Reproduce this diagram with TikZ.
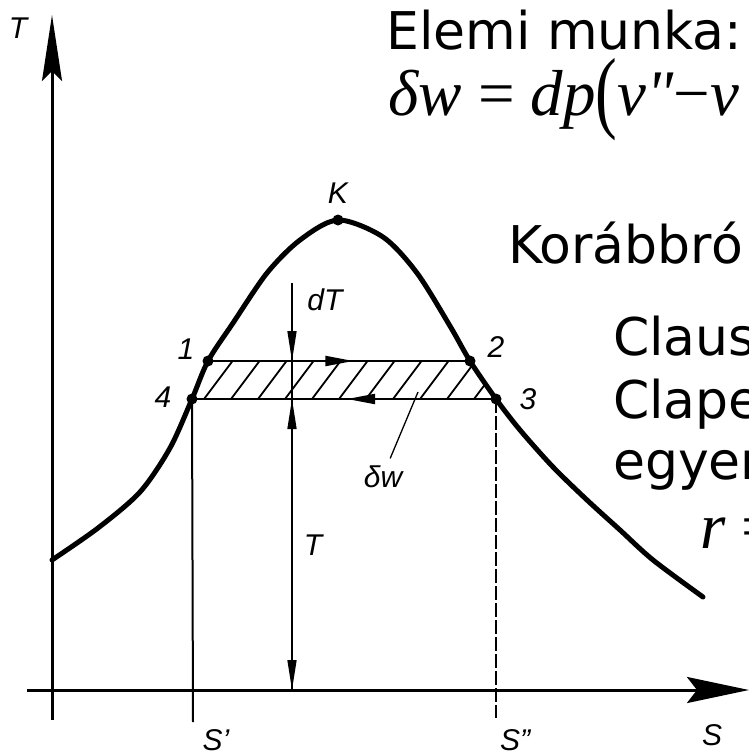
\documentclass[tikz,border=0pt]{standalone}
\usepackage{fontspec}
\usepackage{graphicx}
\newfontfamily\slidefont{DejaVu Sans}
\newfontfamily\eqfont{Liberation Serif}
\newfontfamily\figfont{Liberation Sans}
\usetikzlibrary{arrows.meta, calc}

\begin{document}
\begin{tikzpicture}[x=1pt, y=-1pt,
        >={Triangle[length=30pt,width=9pt]},
        lab/.style={font=\figfont\itshape\fontsize{30}{30}\selectfont, inner sep=0pt},
        slide/.style={font=\slidefont\fontsize{52}{52}\selectfont, anchor=base west, inner sep=0pt},
        eq/.style={font=\eqfont\fontsize{65}{65}\selectfont, anchor=base west, inner sep=0pt}]
        \clip (0,0) rectangle (749,755);
        \fill[white] (0,0) rectangle (749,755);

        % Slide text
        \node[slide] (title) at (386,49) {Elemi munka:};
        \node[eq] (work) at (388,115) {\textit{δw} = \textit{dp}\raisebox{-0.1em}{\scalebox{1}[1.4]{(}}\textit{v"}−\textit{v}};
        \node[slide] (earlier) at (508,263) {Korábbró};
        \node[slide] (claus) at (613,355) {Claus};
        \node[slide] (clape) at (613,418) {Clape};
        \node[slide] (egyen) at (613,479) {egyen};
        \node[eq] (heat) at (700,548) {\textit{r} =};

        % Axes
        \coordinate (tBot) at (52,720);
        \coordinate (tTop) at (52,15);
        \coordinate (sLeft) at (27,690);
        \coordinate (sRight) at (749,690);
        \draw[line width=3pt, -{Stealth[length=66pt,width=20pt,inset=10pt]}] (tBot) -- (tTop);
        \draw[line width=3pt, -{Stealth[length=62pt,width=26pt,inset=10pt]}] (sLeft) -- (sRight);

        % Saturation curve points
        \coordinate (c4) at (192,399);
        \coordinate (c1) at (208,361);
        \coordinate (cK) at (338,220);
        \coordinate (c2) at (470,361);
        \coordinate (c3) at (496,399);

        % Hatched work area
        \begin{scope}
            \clip (c4) -- (c1) -- (c2) -- (c3) -- cycle;
            \foreach \x in {150,177,...,520}
                \draw[line width=1.8pt] (\x,399) -- ++(30,-40);
        \end{scope}

        % Saturation curve
        \draw[line width=5pt, line cap=round] plot[smooth] coordinates {(52,560) (98,528) (140,492) (170,448) (c4) (c1) (233,323) (267,273) (300,240) (cK) (383,237) (417,273) (450,326) (c2) (c3) (520,430) (553,467) (587,500) (620,530) (653,560) (703,597)};
        \foreach \p in {c1,c2,c3,c4,cK}
            \fill (\p) circle (5.5pt);

        % Isotherms
        \path (c1) -- (c2) coordinate[pos=0.555] (a12);
        \path (c3) -- (c4) coordinate[pos=0.49] (a34);
        \draw[line width=2pt] (c1) -- (c2);
        \draw[line width=2pt] (c4) -- (c3);
        \draw[line width=2pt, -{Triangle[length=28pt,width=10pt]}] (c1) -- (a12);
        \draw[line width=2pt, -{Triangle[length=28pt,width=10pt]}] (c3) -- (a34);

        % Entropy lines
        \coordinate (s1) at (193,722);
        \coordinate (s2) at (496,718);
        \draw[line width=2pt] (c4) -- (s1);
        \draw[line width=1.8pt, dash pattern=on 14pt off 3pt] (c3) -- (s2);

        % dT and T dimensions
        \coordinate (dTtop) at (292,283);
        \coordinate (dTa) at (292,361);
        \coordinate (dTb) at (292,399);
        \coordinate (dTbot) at (292,690);
        \draw[line width=1.5pt] (dTtop) -- (dTbot);
        \draw[line width=1.5pt, ->] (dTtop) -- (dTa);
        \draw[line width=1.5pt, <->] (dTb) -- (dTbot);

        % Labels
        \node[lab] (lT) at (18,28) {T};
        \node[lab] (lK) at (338,193) {K};
        \node[lab] (l1) at (186,349) {1};
        \node[lab] (l4) at (163,397) {4};
        \node[lab] (l2) at (496,347) {2};
        \node[lab] (l3) at (528,399) {3};
        \node[lab] (ldT) at (325,300) {dT};
        \node[lab] (ldw) at (383,477) {δw};
        \node[lab] (lTT) at (313,545) {T};
        \node[lab] (lS1) at (216,740) {S’};
        \node[lab] (lS2) at (515,740) {S”};
        \node[lab] (lS) at (712,735) {S};

        % Leader to the area
        \coordinate (wpt) at (418,392);
        \draw[line width=1.3pt, shorten <=8pt] (ldw.70) -- (wpt);
    \end{tikzpicture}
\end{document}
